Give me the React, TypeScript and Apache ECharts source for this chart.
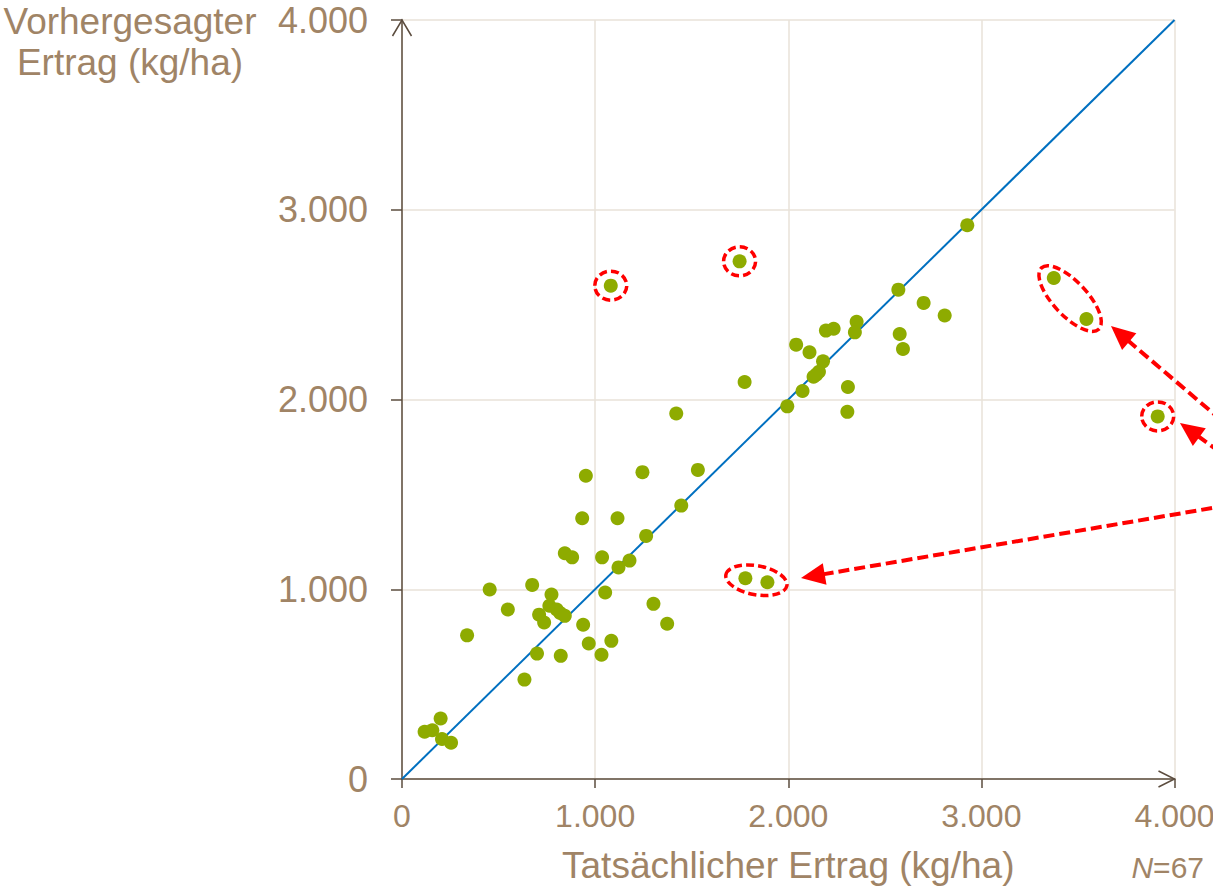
import React, { useEffect, useRef } from "react";
import * as echarts from "echarts";

// Scatter data: actual yield (x) vs predicted yield (y), kg/ha
const actualYield = [
  952, 1245, 1532, 1446, 933, 1116, 1264, 843, 881, 1036, 1178, 1121, 454, 674, 774, 1052,
  548, 763, 801, 819, 843, 710, 736, 1302, 1373, 938, 337, 967, 1084, 699, 822, 1033, 634,
  200, 117, 157, 207, 254, 1081, 1748, 2927, 2570, 2701, 2810, 2577, 2594, 2354, 2345, 2195,
  2235, 2041, 2110, 2180, 2159, 2145, 2131, 2074, 2309, 2306, 1995, 1774, 1420, 3375, 3544,
  3913, 1778, 1892,
];
const predictedYield = [
  1598, 1617, 1629, 1441, 1374, 1374, 1281, 1190, 1168, 1168, 1151, 1115, 999, 1023, 972, 983,
  893, 913, 893, 875, 860, 866, 825, 923, 818, 813, 757, 714, 728, 661, 649, 655, 524,
  319, 249, 257, 211, 191, 2600, 2728, 2918, 2579, 2509, 2443, 2345, 2266, 2410, 2354, 2363,
  2373, 2289, 2249, 2201, 2146, 2131, 2120, 2045, 2066, 1935, 1964, 2092, 1926, 2640, 2424,
  1911, 1058, 1037,
];

// 1:1 reference line
const diagX = [0, 4000];
const diagY = [0, 4000];

// axis ticks
const tickMin = 0;
const tickMax = 4000;
const tickStep = 1000;

// annotation anchors (data units)
const circledSingles = [
  [1081, 2600],
  [1748, 2728],
  [3913, 1911],
];
const circledPairs = [
  [
    [3375, 2640],
    [3544, 2424],
  ],
  [
    [1778, 1058],
    [1892, 1037],
  ],
];
const arrowTips = [
  [3671, 2387],
  [4028, 1876],
  [2066, 1059],
];
const arrowTails = [
  [4727, 1470],
  [4712, 1370],
  [4650, 1507],
];

const FONT = "'Liberation Sans', Arial, Helvetica, sans-serif";
const TXT = "#a08466";
const AX = "#5b4c3e";
const GRID = "#e8e2d9";
const RED = "#ff0000";

const fmt = (v: number) => String(v).replace(/\B(?=(\d{3})+(?!\d))/g, ".");

export default function App() {
  const ref = useRef<HTMLDivElement>(null);

  useEffect(() => {
    if (!ref.current) return;
    const chart = echarts.init(ref.current, null, { renderer: "svg" });
    const points = actualYield.map((x, i) => [x, predictedYield[i]]);
    const diag = diagX.map((x, i) => [x, diagY[i]]);

    chart.setOption({
      animation: false,
      backgroundColor: "#ffffff",
      grid: { left: 402, right: 38.5, top: 20, bottom: 111, containLabel: false, outerBoundsMode: "none" },
      xAxis: {
        type: "value",
        min: tickMin,
        max: tickMax,
        interval: tickStep,
        axisLine: { show: true, onZero: false, lineStyle: { color: AX, width: 1.5 } },
        axisTick: { show: true, length: 9, lineStyle: { color: AX, width: 1.5 } },
        splitLine: { show: true, lineStyle: { color: GRID, width: 1.5 } },
        axisLabel: {
          fontSize: 32,
          color: TXT,
          fontFamily: FONT,
          margin: 21,
          showMinLabel: true,
          showMaxLabel: true,
          formatter: (v: number) => fmt(v),
        },
        name: "Tatsächlicher Ertrag (kg/ha)",
        nameLocation: "middle",
        nameGap: 68,
        nameTextStyle: { fontSize: 37, color: TXT, fontFamily: FONT },
      },
      yAxis: {
        type: "value",
        min: tickMin,
        max: tickMax,
        interval: tickStep,
        axisLine: { show: true, onZero: false, lineStyle: { color: AX, width: 1.5 } },
        axisTick: { show: true, length: 11, lineStyle: { color: AX, width: 1.5 } },
        splitLine: { show: true, lineStyle: { color: GRID, width: 1.5 } },
        axisLabel: {
          fontSize: 36,
          color: TXT,
          fontFamily: FONT,
          margin: 34,
          showMinLabel: true,
          showMaxLabel: true,
          formatter: (v: number) => fmt(v),
        },
      },
      series: [
        {
          type: "line",
          data: diag,
          symbol: "none",
          silent: true,
          lineStyle: { color: "#0070c0", width: 2 },
          z: 2,
        },
        {
          type: "scatter",
          data: points,
          symbolSize: 14,
          itemStyle: { color: "#8eab00", opacity: 1 },
          z: 3,
        },
      ],
    });

    const px = (x: number, y: number) => chart.convertToPixel({ gridIndex: 0 }, [x, y]) as number[];
    const graphics: any[] = [];

    // y axis name
    graphics.push({
      type: "text",
      x: 130,
      y: 0.5,
      z: 10,
      style: {
        text: "Vorhergesagter\nErtrag (kg/ha)",
        fill: TXT,
        fontSize: 37,
        fontFamily: FONT,
        lineHeight: 41,
        align: "center",
        textAlign: "center",
        verticalAlign: "top",
        textVerticalAlign: "top",
      },
    });

    // N=67
    graphics.push({
      type: "text",
      x: 1204,
      y: 867.5,
      z: 10,
      style: {
        text: "{i|N}=" + points.length,
        fill: TXT,
        fontSize: 30,
        fontFamily: FONT,
        align: "right",
        textAlign: "right",
        verticalAlign: "middle",
        textVerticalAlign: "middle",
        rich: { i: { fontStyle: "italic", fontSize: 30, fontFamily: FONT, fill: TXT } },
      },
    });

    // open arrow heads on axes
    const yTop = px(0, tickMax);
    graphics.push({
      type: "polyline",
      z: 10,
      shape: { points: [[yTop[0] - 9.5, yTop[1] + 16], [yTop[0], yTop[1]], [yTop[0] + 9.5, yTop[1] + 16]] },
      style: { stroke: AX, lineWidth: 1.5, fill: "none" },
    });
    const xEnd = px(tickMax, 0);
    graphics.push({
      type: "polyline",
      z: 10,
      shape: { points: [[xEnd[0] - 16, xEnd[1] - 8], [xEnd[0], xEnd[1]], [xEnd[0] - 16, xEnd[1] + 8]] },
      style: { stroke: AX, lineWidth: 1.5, fill: "none" },
    });

    // circled singles
    circledSingles.forEach(([x, y]) => {
      const c = px(x, y);
      graphics.push({
        type: "ellipse",
        z: 20,
        shape: { cx: c[0], cy: c[1], rx: 16, ry: 14.5 },
        style: { stroke: RED, lineWidth: 3.5, lineDash: [8, 4], fill: "none" },
      });
    });

    // circled pairs (rotated ellipses)
    const pairSizes = [
      [42, 17],
      [31, 14.5],
    ];
    circledPairs.forEach((pair, i) => {
      const a = px(pair[0][0], pair[0][1]);
      const b = px(pair[1][0], pair[1][1]);
      const cx = (a[0] + b[0]) / 2;
      const cy = (a[1] + b[1]) / 2;
      let ang = Math.atan2(b[1] - a[1], b[0] - a[0]);
      if (i === 0) ang = (47 * Math.PI) / 180;
      graphics.push({
        type: "ellipse",
        z: 20,
        x: cx,
        y: cy,
        rotation: -ang,
        shape: { cx: 0, cy: 0, rx: pairSizes[i][0], ry: pairSizes[i][1] },
        style: { stroke: RED, lineWidth: 3.5, lineDash: [8, 4], fill: "none" },
      });
    });

    // arrows
    arrowTips.forEach((tip, i) => {
      const t = px(tip[0], tip[1]);
      const s = px(arrowTails[i][0], arrowTails[i][1]);
      const dx = s[0] - t[0];
      const dy = s[1] - t[1];
      const L = Math.hypot(dx, dy);
      const ux = dx / L;
      const uy = dy / L;
      const headLen = 24;
      const headW = 11;
      const base = [t[0] + ux * headLen, t[1] + uy * headLen];
      const left = [base[0] - uy * headW, base[1] + ux * headW];
      const right = [base[0] + uy * headW, base[1] - ux * headW];
      graphics.push({
        type: "line",
        z: 20,
        shape: { x1: base[0] - ux * 2, y1: base[1] - uy * 2, x2: s[0], y2: s[1] },
        style: { stroke: RED, lineWidth: 4, lineDash: [11, 5] },
      });
      graphics.push({
        type: "polygon",
        z: 21,
        shape: { points: [t, left, right] },
        style: { fill: RED },
      });
    });

    chart.setOption({ graphic: { elements: graphics } });

    return () => chart.dispose();
  }, []);

  return (
    <div
      ref={ref}
      style={{ position: "absolute", left: 0, top: 0, width: 1213, height: 890, background: "#fff" }}
    />
  );
}
